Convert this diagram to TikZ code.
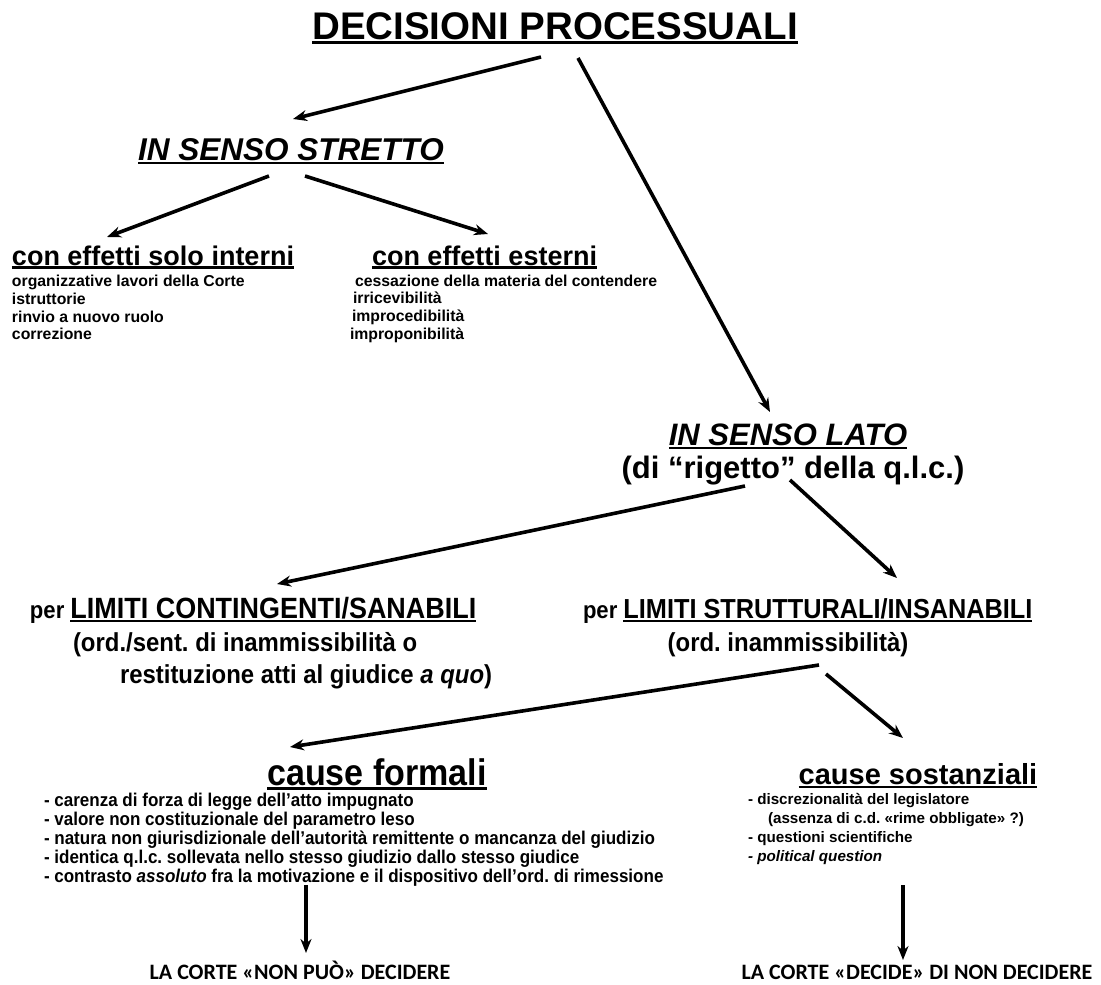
\documentclass[tikz,border=0pt]{standalone}
\usepackage{fontspec}
\setmainfont{Liberation Sans}
\newfontfamily\narrowfont{Liberation Sans}[FakeStretch=0.92]
\newfontfamily\calfont{Carlito}
\usetikzlibrary{arrows.meta}
\frenchspacing
\newcommand\fs[1]{\fontsize{#1}{#1}\selectfont}
\newcommand\ulx[1]{\setbox0=\hbox{#1}\rlap{\rule[-0.13em]{\wd0}{0.075em}}\box0}
\tikzset{
  txt/.style={inner sep=0pt, outer sep=0pt, font=\bfseries\frenchspacing},
  arr/.style={line width=3.6pt, -{Stealth[length=14pt,width=11pt]}},
}
\begin{document}
\begin{tikzpicture}[x=1pt,y=-1pt]
\useasboundingbox[fill=white] (0,0) rectangle (1101,985);
% headings
\node[txt,anchor=base] (title) at (555,39) {\fs{38.5}\ulx{DECISIONI PROCESSUALI}};
\node[txt,anchor=base] (strict) at (291,160) {\fs{31.5}\itshape\ulx{IN SENSO STRETTO}};
\node[txt,anchor=base west] (interni) at (12,265) {\fs{27}\ulx{con effetti solo interni}};
\node[txt,anchor=base west] (esterni) at (372,265) {\fs{27}\ulx{con effetti esterni}};
% lists
\node[txt,anchor=base west] (i1) at (12,286) {\fs{15.8}organizzative lavori della Corte};
\node[txt,anchor=base west] (i2) at (12,304) {\fs{15.8}istruttorie};
\node[txt,anchor=base west] (i3) at (12,322) {\fs{15.8}rinvio a nuovo ruolo};
\node[txt,anchor=base west] (i4) at (12,339) {\fs{15.8}correzione};
\node[txt,anchor=base west] (e1) at (355,286) {\fs{15.8}cessazione della materia del contendere};
\node[txt,anchor=base west] (e2) at (353,303) {\fs{15.8}irricevibilità};
\node[txt,anchor=base west] (e3) at (352,321) {\fs{15.8}improcedibilità};
\node[txt,anchor=base west] (e4) at (350,339) {\fs{15.8}improponibilità};
% lato
\node[txt,anchor=base] (lato) at (788,445) {\fs{31}\itshape\ulx{IN SENSO LATO}};
\node[txt,anchor=base] (rig) at (793,478) {\fs{31}(di “rigetto” della q.l.c.)};
% limiti
\node[txt,anchor=base west] (cont) at (30,618) {\narrowfont\fs{24}per \fs{29.3}\ulx{LIMITI CONTINGENTI/SANABILI}};
\node[txt,anchor=base west] (cont2) at (73,651) {\narrowfont\fs{26}(ord./sent. di inammissibilità o};
\node[txt,anchor=base west] (cont3) at (120,683) {\narrowfont\fs{26}restituzione atti al giudice \textit{a quo})};
\node[txt,anchor=base west] (strut) at (583,618) {\narrowfont\fs{24}per \fs{27.5}\ulx{LIMITI STRUTTURALI/INSANABILI}};
\node[txt,anchor=base] (strut2) at (788,651) {\narrowfont\fs{26}(ord. inammissibilità)};
% cause
\node[txt,anchor=base] (formali) at (377,785) {\narrowfont\fs{37}\ulx{cause formali}};
\node[txt,anchor=base] (sost) at (918,784) {\fs{29}\ulx{cause sostanziali}};
\node[txt,anchor=base west] (f1) at (44,806) {\narrowfont\fs{18.5}- carenza di forza di legge dell’atto impugnato};
\node[txt,anchor=base west] (f2) at (44,825) {\narrowfont\fs{18.5}- valore non costituzionale del parametro leso};
\node[txt,anchor=base west] (f3) at (44,844) {\narrowfont\fs{18.5}- natura non giurisdizionale dell’autorità remittente o mancanza del giudizio};
\node[txt,anchor=base west] (f4) at (44,863) {\narrowfont\fs{18.5}- identica q.l.c. sollevata nello stesso giudizio dallo stesso giudice};
\node[txt,anchor=base west] (f5) at (44,882) {\narrowfont\fs{18.5}- contrasto \textit{assoluto} fra la motivazione e il dispositivo dell’ord. di rimessione};
\node[txt,anchor=base west] (s1) at (748,804) {\fs{15.2}- discrezionalità del legislatore};
\node[txt,anchor=base west] (s2) at (768,823) {\fs{15.2}(assenza di c.d. «rime obbligate» ?)};
\node[txt,anchor=base west] (s3) at (748,842) {\fs{15.2}- questioni scientifiche};
\node[txt,anchor=base west] (s4) at (748,861) {\fs{15.2}\itshape - political question};
% bottom
\node[txt,anchor=base] (b1) at (300,979) {\calfont\fs{22}LA CORTE «NON PUÒ» DECIDERE};
\node[txt,anchor=base] (b2) at (917,979) {\calfont\fs{22}LA CORTE «DECIDE» DI NON DECIDERE};
% arrow endpoints
\coordinate (a1s) at (541,57);  \coordinate (a1e) at (293,119);
\coordinate (a2s) at (578,58);  \coordinate (a2e) at (770,412);
\coordinate (a3s) at (269,176); \coordinate (a3e) at (107,237);
\coordinate (a4s) at (305,176); \coordinate (a4e) at (488,234);
\coordinate (a5s) at (745,486); \coordinate (a5e) at (277,584);
\coordinate (a6s) at (790,480); \coordinate (a6e) at (897,578);
\coordinate (a7s) at (819,665); \coordinate (a7e) at (290,747);
\coordinate (a8s) at (826,674); \coordinate (a8e) at (903,738);
\coordinate (a9s) at (306,885); \coordinate (a9e) at (306,953);
\coordinate (a10s) at (903,885); \coordinate (a10e) at (903,960);
\draw[arr] (a1s) -- (a1e);
\draw[arr] (a2s) -- (a2e);
\draw[arr] (a3s) -- (a3e);
\draw[arr] (a4s) -- (a4e);
\draw[arr] (a5s) -- (a5e);
\draw[arr] (a6s) -- (a6e);
\draw[arr] (a7s) -- (a7e);
\draw[arr] (a8s) -- (a8e);
\draw[arr] (a9s) -- (a9e);
\draw[arr] (a10s) -- (a10e);
\end{tikzpicture}
\end{document}
